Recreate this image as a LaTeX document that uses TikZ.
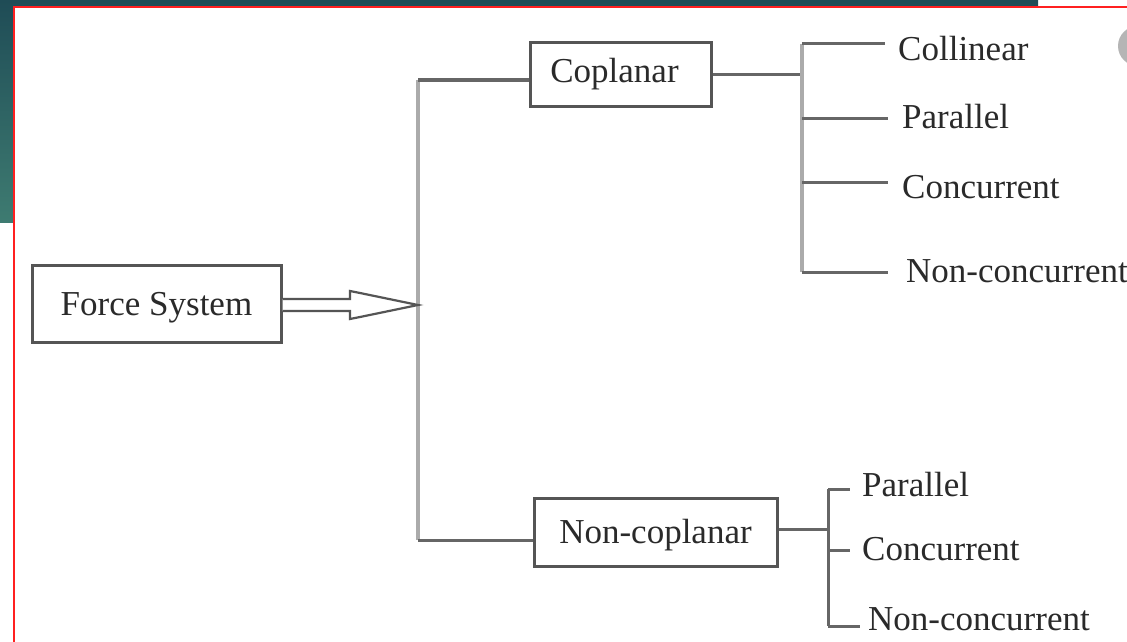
\documentclass[tikz,border=0pt]{standalone}
\usepackage{fontspec}
\setmainfont{Liberation Serif}
\usetikzlibrary{calc}
\definecolor{tealA}{HTML}{1F4C56}
\definecolor{tealB}{HTML}{3E7B71}
\definecolor{ink}{HTML}{2A2A2A}
\definecolor{boxc}{HTML}{555555}
\definecolor{linec}{HTML}{666666}
\definecolor{trunkc}{HTML}{ABABAB}
\definecolor{circc}{HTML}{B5B5B5}
\definecolor{redline}{HTML}{FF2020}
\begin{document}
\begin{tikzpicture}[x=1pt,y=-1pt,
  txt/.style={text=ink, font=\fontsize{35}{40}\selectfont, text height=30pt, text depth=7pt},
  box/.style={txt, draw=boxc, line width=3pt, fill=white, inner sep=0pt},
  leaf/.style={txt, anchor=west, inner ysep=0pt},
  conn/.style={draw=linec, line width=3pt},
  trunk/.style={draw=trunkc, line width=4.5pt}]
\useasboundingbox (0,0) rectangle (1127,642);
\clip (0,0) rectangle (1127,642);
% background
\shade[top color=tealA, bottom color=tealB] (0,0) rectangle (1038,222);
\fill[white] (14,7) rectangle (1140,650);
\draw[redline, line width=2.5pt] (14,660) -- (14,7) -- (1140,7);
\fill[circc] (1138,46) circle (20pt);
% main boxes
\node[box, minimum width=249pt, minimum height=77pt] (fs) at (156.5,303.5) {Force System};
\node[box, minimum width=181pt, minimum height=63pt, text height=22pt] (cop) at (620.5,74.5) {Coplanar\rule{12pt}{0pt}};
\node[box, minimum width=243pt, minimum height=68pt] (ncop) at (655.5,532) {Non-coplanar};
% trunk
\coordinate (J) at (418,305);
\coordinate (vt) at (418,80);
\coordinate (vb) at (418,540);
\draw[trunk] (vt) -- (vb);
\draw[conn] (vt) -- (vt -| cop.west);
\draw[conn] (vb) -- (vb -| ncop.west);
% hollow arrow
\draw[boxc, line width=2.2pt, line join=miter, fill=white]
  ($(fs.east |- J)+(0,-6)$) -- ($(J)+(-68,-6)$) -- ($(J)+(-68,-14)$) -- ($(J)+(-58,-12)$) -- (J)
  -- ($(J)+(-58,12)$) -- ($(J)+(-68,14)$) -- ($(J)+(-68,6)$) -- ($(fs.east |- J)+(0,6)$);
% coplanar bracket
\coordinate (tb) at (802,75);
\coordinate (t1) at (802,44);
\coordinate (t2) at (802,118);
\coordinate (t3) at (802,182);
\coordinate (t4) at (802,272);
\draw[conn] (tb -| cop.east) -- (tb);
\draw[trunk] (t1) -- (t4);
\node[leaf, inner xsep=13pt] (l1) at (885,48.5) {Collinear};
\node[leaf, inner xsep=14pt] (l2) at (888,116.5) {Parallel};
\node[leaf, inner xsep=14pt] (l3) at (888,186.5) {Concurrent};
\node[leaf, inner xsep=18pt] (l4) at (888,270.5) {Non-concurrent};
\draw[conn] (t1) -- (t1 -| l1.west);
\draw[conn] (t2) -- (t2 -| l2.west);
\draw[conn] (t3) -- (t3 -| l3.west);
\draw[conn] (t4) -- (t4 -| l4.west);
% non-coplanar bracket
\coordinate (bb) at (828,529);
\coordinate (b1) at (828,489);
\coordinate (b2) at (828,550);
\coordinate (b3) at (828,626);
\draw[conn] (bb -| ncop.east) -- (bb);
\draw[conn] (b1) -- (b3);
\node[leaf, inner xsep=12pt] (m1) at (850,484.5) {Parallel};
\node[leaf, inner xsep=12pt] (m2) at (850,548.5) {Concurrent};
\node[leaf, inner xsep=8pt] (m3) at (860,618.5) {Non-concurrent};
\draw[conn] (b1) -- (b1 -| m1.west);
\draw[conn] (b2) -- (b2 -| m2.west);
\draw[conn] (b3) -- (b3 -| m3.west);
\end{tikzpicture}
\end{document}
